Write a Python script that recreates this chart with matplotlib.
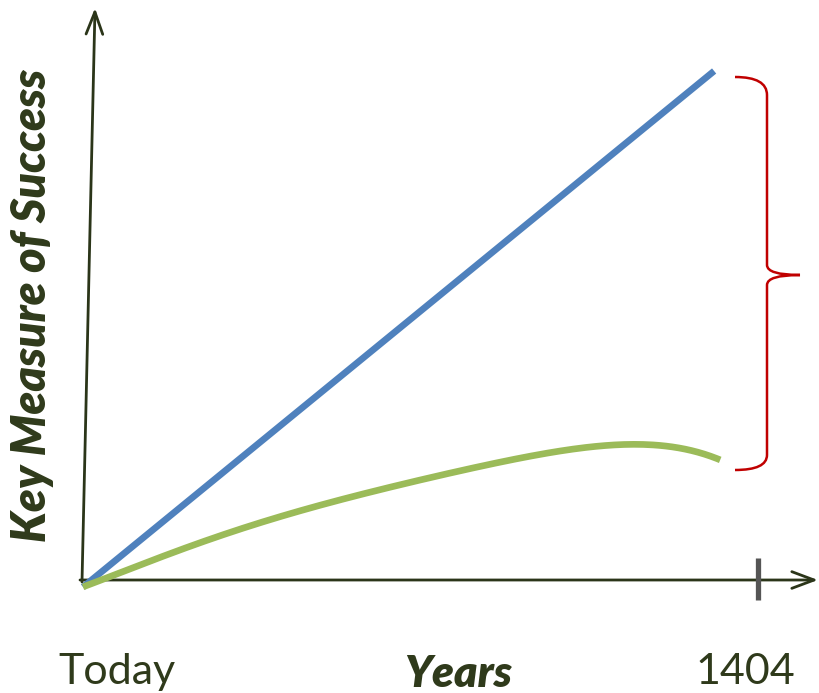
import matplotlib
matplotlib.use("Agg")
import matplotlib.pyplot as plt
from matplotlib.path import Path
from matplotlib.patches import PathPatch
import numpy as np

# ---- data (x: fraction of time from Today (0) to 1404 (1); y: key measure, arbitrary units)
target_x = [0.0, 0.935]
target_y = [0.0, 100.0]

actual_x = [0.0, 0.122, 0.244, 0.370, 0.495, 0.619, 0.744, 0.806, 0.868, 0.944]
actual_y = [0.0, 6.2, 11.6, 16.5, 20.7, 24.2, 26.9, 27.7, 27.3, 24.6]

tick_positions = [0.0, 1.0]
tick_labels = ["Today", "1404"]
x_title = "Years"
y_title = "Key Measure of Success"

TXT = "#2f3a1b"
AX = "#2b3519"
W, H = 820, 693

fig = plt.figure(figsize=(8.2, 6.93), dpi=100)
ax = fig.add_axes([0, 0, 1, 1])
ax.set_axis_off()
# pixel scale: 675 px per x unit, 5.16 px per y unit, origin at pixel (83, 587 from top)
ax.set_xlim(-83 / 675, (W - 83) / 675)
ax.set_ylim(-(H - 587) / 5.16, 587 / 5.16)

# axes arrows (figure pixels, origin bottom-left)
ax.annotate("", xy=(95, H - 8), xytext=(82, H - 582), xycoords="figure pixels",
            textcoords="figure pixels",
            arrowprops=dict(arrowstyle="->,head_length=1.6,head_width=0.6", color=AX, lw=2.0,
                            shrinkA=0, shrinkB=0))
ax.annotate("", xy=(818, H - 580), xytext=(80, H - 580), xycoords="figure pixels",
            textcoords="figure pixels",
            arrowprops=dict(arrowstyle="->,head_length=1.6,head_width=0.6", color=AX, lw=2.0,
                            shrinkA=0, shrinkB=0))

# series
ax.plot(target_x, target_y, color="#4f81bd", lw=4.8, solid_capstyle="butt", zorder=3)
xs = np.linspace(actual_x[0], actual_x[-1], 200)
coef = np.polyfit(actual_x, actual_y, 5)
ax.plot(xs, np.polyval(coef, xs), color="#9bbb59", lw=4.8, solid_capstyle="butt", zorder=3)

# tick at 1404
ax.plot([1.0, 1.0], [5.6, -2.5], color="#555555", lw=3.8, solid_capstyle="butt", zorder=4)

# brace
def px(x, y):
    return ((x - 83) / 675, (587 - y) / 5.16)

verts = [px(735, 77), px(767, 77), px(767, 95),
         px(767, 265),
         px(767, 275), px(800, 275),
         px(767, 275), px(767, 285),
         px(767, 455),
         px(767, 470), px(735, 470)]
codes = [Path.MOVETO, Path.CURVE3, Path.CURVE3,
         Path.LINETO,
         Path.CURVE3, Path.CURVE3,
         Path.CURVE3, Path.CURVE3,
         Path.LINETO,
         Path.CURVE3, Path.CURVE3]
ax.add_patch(PathPatch(Path(verts, codes), fill=False, edgecolor="#c00000", lw=1.8))

# labels
fam = ["Lato", "DejaVu Sans"]
for xp, lab in zip(tick_positions, tick_labels):
    fx = 83 + xp * 675 + (34 if xp == 0 else -13)
    fig.text(fx / W, 1 - 672 / H, lab, ha="center", va="center", fontsize=31,
             color=TXT, family=fam)
fig.text(458 / W, 1 - 674 / H, x_title, ha="center", va="center", fontsize=32,
         color=TXT, family=fam, fontweight="heavy", fontstyle="italic")
fig.text(32 / W, 1 - 305 / H, y_title, ha="center", va="center", fontsize=33.5,
         color=TXT, family=fam, fontweight="heavy", fontstyle="italic", rotation=90)

fig.savefig("out.png", dpi=100)
